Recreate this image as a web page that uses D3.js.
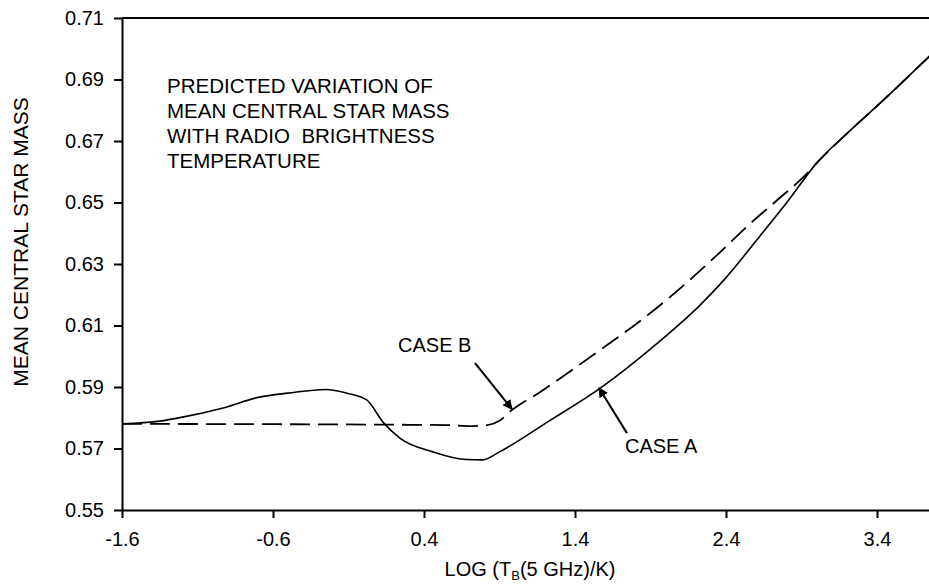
<!DOCTYPE html>
<html>
<head>
<meta charset="utf-8">
<script src="https://cdn.jsdelivr.net/npm/d3@7"></script>
<style>
	body { margin: 0; background: #fff; }
	svg { display: block; }
	text { font-family: "Liberation Sans", Arial, sans-serif; fill: #000; }
</style>
</head>
<body>
<svg id="chart" width="929" height="585"></svg>
<script>
/* Data: LOG(T_B) vs mean central star mass */
const caseAx = [-1.6, -1.35, -1.2, -0.93, -0.69, -0.5, -0.25, -0.11, 0.02, 0.13, 0.24, 0.46, 0.68, 0.79, 0.9, 1.23, 1.57, 1.94, 2.23, 2.39, 2.62, 2.8, 3.0, 3.22, 3.44, 3.75];
const caseAy = [0.5780, 0.5789, 0.5802, 0.5832, 0.5867, 0.5880, 0.5892, 0.5880, 0.5858, 0.5785, 0.5734, 0.5689, 0.5664, 0.5663, 0.5689, 0.5790, 0.5897, 0.6040, 0.6167, 0.6250, 0.6388, 0.6498, 0.6628, 0.6733, 0.6832, 0.6977];

const caseBx = [-1.6, -0.6, 0.3, 0.55, 0.72, 0.82, 0.9, 0.97, 1.17, 1.52, 1.9, 2.16, 2.34, 2.58, 2.74, 2.94, 3.0, 3.22, 3.44, 3.75];
const caseBy = [0.5780, 0.5779, 0.5777, 0.5776, 0.5773, 0.5776, 0.5790, 0.5820, 0.5884, 0.6004, 0.6141, 0.6248, 0.6329, 0.6440, 0.6508, 0.6596, 0.6628, 0.6733, 0.6832, 0.6977];

const xTicks = [-1.6, -0.6, 0.4, 1.4, 2.4, 3.4];
const yTicks = [0.55, 0.57, 0.59, 0.61, 0.63, 0.65, 0.67, 0.69, 0.71];

const noteLines = ["PREDICTED VARIATION OF", "MEAN CENTRAL STAR MASS", "WITH RADIO  BRIGHTNESS", "TEMPERATURE"];

/* Annotations: label anchor, arrow start, arrow tip (data units) */
const labelB = { text: "CASE B", x: 0.228, y: 0.6014, from: [0.738, 0.5978], to: [0.983, 0.5828] };
const labelA = { text: "CASE A", x: 1.731, y: 0.5685, from: [1.744, 0.5750], to: [1.559, 0.5897] };

const svg = d3.select("#chart");

/* Scales */
const xScale = d3.scaleLinear()
	.domain([-1.6, 3.75])
	.range([122, 929.85]);

const yScale = d3.scaleLinear()
	.domain([0.55, 0.71])
	.range([510, 18]);

/* Axes */
const xAxis = d3.axisBottom(xScale)
	.tickValues(xTicks)
	.tickFormat((d) => d.toFixed(1))
	.tickSize(8)
	.tickSizeOuter(0)
	.tickPadding(14);

const yAxis = d3.axisLeft(yScale)
	.tickValues(yTicks)
	.tickFormat((d) => d.toFixed(2))
	.tickSize(8)
	.tickSizeOuter(0)
	.tickPadding(10);

const styleAxis = (g) => {
	g.select(".domain").attr("stroke", "#000").attr("stroke-width", 2);
	g.selectAll(".tick line").attr("stroke", "#000").attr("stroke-width", 2);
	g.selectAll(".tick text")
		.attr("font-size", 20)
		.attr("font-family", "Liberation Sans, Arial, sans-serif")
		.attr("fill", "#000");
	return g;
};

svg.append("g")
	.attr("transform", "translate(0,510)")
	.call(xAxis)
	.call(styleAxis);

svg.append("g")
	.attr("transform", "translate(122,0)")
	.call(yAxis)
	.call(styleAxis);

/* Top frame line */
svg.append("line")
	.attr("x1", xScale(-1.6))
	.attr("x2", xScale(3.75))
	.attr("y1", yScale(0.71))
	.attr("y2", yScale(0.71))
	.attr("stroke", "#000")
	.attr("stroke-width", 2);

/* Curves */
const line = d3.line()
	.x((d) => xScale(d[0]))
	.y((d) => yScale(d[1]))
	.curve(d3.curveMonotoneX);

svg.append("path")
	.datum(caseAx.map((x, i) => [x, caseAy[i]]))
	.attr("fill", "none")
	.attr("stroke", "#000")
	.attr("stroke-width", 1.6)
	.attr("d", line);

svg.append("path")
	.datum(caseBx.map((x, i) => [x, caseBy[i]]))
	.attr("fill", "none")
	.attr("stroke", "#000")
	.attr("stroke-width", 1.8)
	.attr("stroke-dasharray", "20,8")
	.attr("d", line);

/* Arrow heads */
svg.append("defs")
	.append("marker")
	.attr("id", "head")
	.attr("viewBox", "0 0 10 10")
	.attr("refX", 9)
	.attr("refY", 5)
	.attr("markerWidth", 5)
	.attr("markerHeight", 5)
	.attr("markerUnits", "strokeWidth")
	.attr("orient", "auto")
	.append("path")
	.attr("d", "M0,0L10,5L0,10z")
	.attr("fill", "#000");

[labelB, labelA].forEach((a) => {
	svg.append("line")
		.attr("x1", xScale(a.from[0]))
		.attr("y1", yScale(a.from[1]))
		.attr("x2", xScale(a.to[0]))
		.attr("y2", yScale(a.to[1]))
		.attr("stroke", "#000")
		.attr("stroke-width", 2)
		.attr("marker-end", "url(#head)");

	svg.append("text")
		.attr("x", xScale(a.x))
		.attr("y", yScale(a.y))
		.attr("font-size", 20)
		.text(a.text);
});

/* Note in the upper left */
svg.append("text")
	.attr("x", 167)
	.attr("y", 93)
	.attr("font-size", 20.5)
	.attr("xml:space", "preserve")
	.style("white-space", "pre")
	.selectAll("tspan")
	.data(noteLines)
	.join("tspan")
	.attr("x", 167)
	.attr("dy", (d, i) => (i === 0 ? 0 : 25))
	.text((d) => d);

/* Axis titles */
const xTitle = svg.append("text")
	.attr("x", 530)
	.attr("y", 576)
	.attr("font-size", 20)
	.attr("text-anchor", "middle");
xTitle.append("tspan").text("LOG (T");
xTitle.append("tspan").attr("font-size", 13).attr("dy", 4).text("B");
xTitle.append("tspan").attr("dy", -4).text("(5 GHz)/K)");

svg.append("text")
	.attr("transform", "translate(28,242) rotate(-90)")
	.attr("font-size", 21)
	.attr("text-anchor", "middle")
	.text("MEAN CENTRAL STAR MASS");
</script>
</body>
</html>
